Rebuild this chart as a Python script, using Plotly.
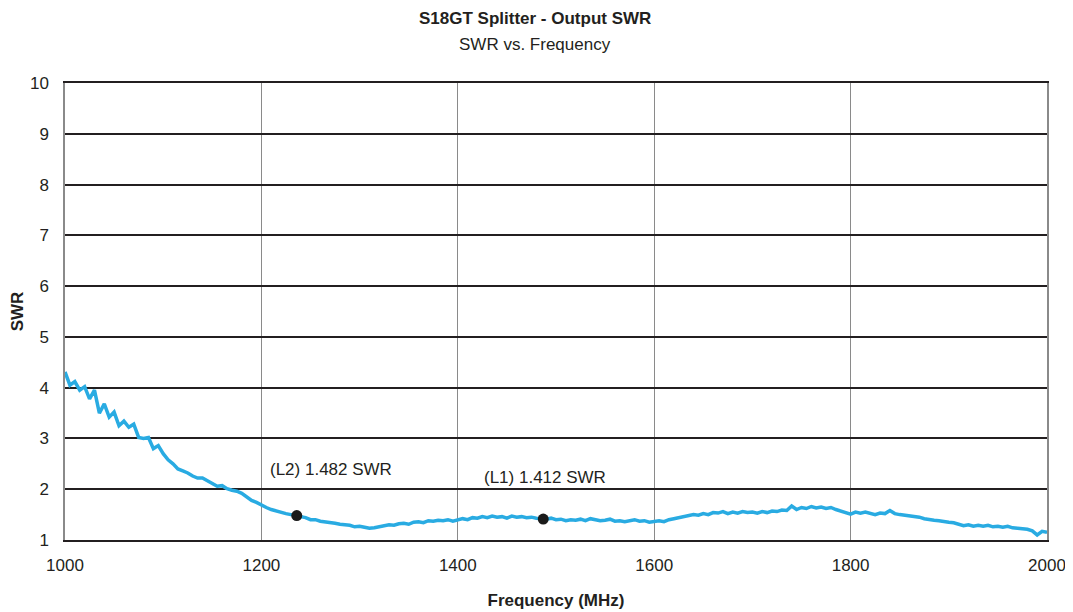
import plotly.graph_objects as go

freq_mhz = list(range(1000, 2001, 5))
swr = [
    4.31, 4.05, 4.12, 3.95, 4.02, 3.78, 3.95, 3.50, 3.68, 3.42,
    3.52, 3.25, 3.34, 3.22, 3.28, 3.02, 3.00, 3.02, 2.80, 2.86,
    2.70, 2.58, 2.50, 2.40, 2.36, 2.32, 2.26, 2.22, 2.22, 2.17,
    2.12, 2.06, 2.07, 2.01, 1.98, 1.96, 1.92, 1.84, 1.78, 1.74,
    1.68, 1.64, 1.60, 1.57, 1.55, 1.52, 1.50, 1.48, 1.46, 1.44,
    1.40, 1.40, 1.37, 1.36, 1.34, 1.33, 1.31, 1.30, 1.29, 1.26,
    1.27, 1.25, 1.23, 1.24, 1.26, 1.28, 1.30, 1.29, 1.32, 1.33,
    1.31, 1.35, 1.36, 1.34, 1.38, 1.37, 1.39, 1.38, 1.40, 1.37,
    1.40, 1.42, 1.40, 1.44, 1.43, 1.46, 1.44, 1.47, 1.45, 1.46,
    1.43, 1.47, 1.45, 1.46, 1.44, 1.45, 1.43, 1.42, 1.41, 1.43,
    1.40, 1.41, 1.38, 1.40, 1.39, 1.41, 1.38, 1.42, 1.40, 1.38,
    1.39, 1.41, 1.37, 1.38, 1.36, 1.38, 1.40, 1.37, 1.38, 1.35,
    1.37, 1.38, 1.36, 1.40, 1.42, 1.44, 1.45, 1.47, 1.50, 1.49,
    1.52, 1.50, 1.54, 1.53, 1.56, 1.52, 1.55, 1.53, 1.56, 1.54,
    1.55, 1.53, 1.56, 1.54, 1.57, 1.56, 1.59, 1.58, 1.67, 1.60,
    1.64, 1.62, 1.66, 1.63, 1.65, 1.62, 1.64, 1.60, 1.57, 1.55,
    1.51, 1.55, 1.53, 1.55, 1.52, 1.50, 1.53, 1.52, 1.58, 1.52,
    1.50, 1.49, 1.48, 1.47, 1.45, 1.42, 1.40, 1.39, 1.38, 1.36,
    1.35, 1.34, 1.31, 1.28, 1.30, 1.27, 1.29, 1.27, 1.29, 1.26,
    1.27, 1.25, 1.27, 1.24, 1.23, 1.22, 1.21, 1.18, 1.10, 1.17,
    1.15,
]
n = min(len(freq_mhz), len(swr))
freq_mhz = freq_mhz[:n]
swr = swr[:n]

marker_freq = [1236, 1487]
marker_swr = [1.482, 1.412]
marker_labels = ["(L2) 1.482 SWR", "(L1) 1.412 SWR"]
label_x = [1207, 1425]
label_y = [2.38, 2.24]

x_ticks = [1000, 1200, 1400, 1600, 1800, 2000]
y_ticks = list(range(1, 11))

FONT = "Liberation Sans, Arial, sans-serif"
TXT = "#231f20"

fig = go.Figure()
fig.add_trace(go.Scatter(
    x=freq_mhz, y=swr, mode="lines",
    line=dict(color="#29ABE2", width=3.5),
    showlegend=False, hoverinfo="skip",
))
fig.add_trace(go.Scatter(
    x=marker_freq, y=marker_swr, mode="markers",
    marker=dict(color="#1a1a1a", size=11),
    showlegend=False,
))
for lx, ly, t in zip(label_x, label_y, marker_labels):
    fig.add_annotation(x=lx, y=ly, text=t, showarrow=False,
                       xanchor="left", yanchor="middle",
                       font=dict(family=FONT, size=17, color=TXT))

fig.add_annotation(x=0.479, y=1.142, xref="paper", yref="paper", yanchor="middle",
                   text="<b>S18GT Splitter - Output SWR</b>", showarrow=False,
                   font=dict(family=FONT, size=17, color=TXT))
fig.add_annotation(x=0.479, y=1.085, xref="paper", yref="paper", yanchor="middle",
                   text="SWR vs. Frequency", showarrow=False,
                   font=dict(family=FONT, size=17, color=TXT))

fig.update_layout(
    width=1065, height=604,
    margin=dict(l=57, r=26, t=75, b=72),
    paper_bgcolor="white", plot_bgcolor="white",
    font=dict(family=FONT, size=15, color=TXT),
    xaxis=dict(
        range=[1000, 2000], tickvals=x_ticks, automargin=False,
        ticks="outside", ticklen=9, tickcolor="rgba(0,0,0,0)",
        showgrid=True, gridcolor="#8a8a8a", gridwidth=1,
        showline=True, linecolor=TXT, linewidth=2, mirror=True,
        zeroline=False,
        title=dict(text="<b>Frequency (MHz)</b>", font=dict(family=FONT, size=17), standoff=20),
        tickfont=dict(family=FONT, size=17),
    ),
    yaxis=dict(
        range=[1, 10], tickvals=y_ticks, automargin=False,
        ticks="outside", ticklen=11, tickcolor="rgba(0,0,0,0)",
        showgrid=True, gridcolor=TXT, gridwidth=1.5,
        showline=True, linecolor="#8a8a8a", linewidth=1.5, mirror=True,
        zeroline=False,
        title=dict(text="<b>SWR</b>", font=dict(family=FONT, size=17), standoff=16),
        tickfont=dict(family=FONT, size=17),
    ),
)

fig.write_html("out.html")
